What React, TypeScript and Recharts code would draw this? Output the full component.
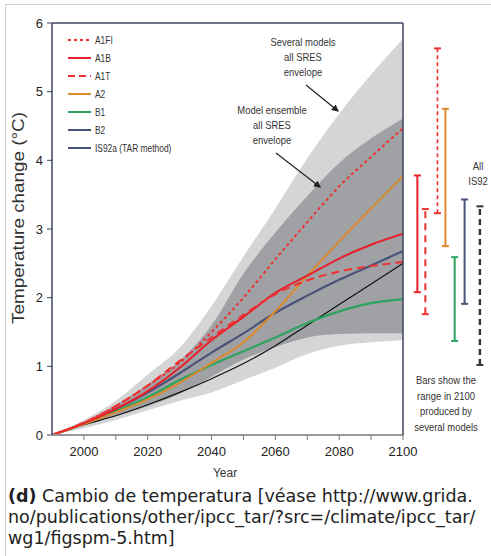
import React from "react";
import { ComposedChart, Line, Area, XAxis, YAxis, ReferenceLine } from "recharts";

// years and scenario curves (temperature change from 1990, °C)
const YEARS = [1990, 2000, 2010, 2020, 2030, 2040, 2050, 2060, 2070, 2080, 2090, 2100];
const A1FI = [0, 0.18, 0.42, 0.72, 1.05, 1.5, 2.0, 2.56, 3.1, 3.62, 4.05, 4.47];
const A1B = [0, 0.17, 0.38, 0.64, 0.98, 1.38, 1.72, 2.07, 2.32, 2.57, 2.77, 2.93];
const A1T = [0, 0.18, 0.42, 0.72, 1.08, 1.42, 1.75, 2.05, 2.25, 2.38, 2.46, 2.52];
const A2 = [0, 0.16, 0.33, 0.52, 0.76, 1.05, 1.35, 1.8, 2.32, 2.82, 3.3, 3.77];
const B1 = [0, 0.16, 0.35, 0.55, 0.8, 1.02, 1.22, 1.42, 1.63, 1.8, 1.92, 1.98];
const B2 = [0, 0.17, 0.38, 0.62, 0.9, 1.2, 1.48, 1.78, 2.03, 2.26, 2.47, 2.68];
const IS92A = [0, 0.15, 0.28, 0.44, 0.62, 0.82, 1.04, 1.3, 1.6, 1.9, 2.2, 2.5];

// envelopes
const SEVERAL_LOW = [0, 0.1, 0.22, 0.36, 0.5, 0.62, 0.8, 0.98, 1.18, 1.3, 1.35, 1.38];
const SEVERAL_HIGH = [0, 0.22, 0.5, 0.88, 1.27, 1.88, 2.6, 3.3, 4.03, 4.68, 5.25, 5.77];
const ENSEMBLE_LOW = [0, 0.14, 0.28, 0.42, 0.6, 0.85, 1.1, 1.28, 1.42, 1.47, 1.48, 1.48];
const ENSEMBLE_HIGH = [0, 0.19, 0.44, 0.74, 1.08, 1.6, 2.35, 2.95, 3.48, 3.96, 4.32, 4.61];

// range bars in 2100
const BAR_NAMES = ["A1B", "A1T", "A1FI", "A2", "B1", "B2", "IS92"];
const BAR_LOW = [2.08, 1.76, 3.23, 2.75, 1.37, 1.91, 1.02];
const BAR_HIGH = [3.78, 3.29, 5.63, 4.75, 2.59, 3.43, 3.33];

const X_TICKS = [2000, 2010, 2020, 2030, 2040, 2050, 2060, 2070, 2080, 2090, 2100];
const Y_TICKS = [0, 1, 2, 3, 4, 5, 6];

// where the bars sit to the right of the plot (in year units) + their look
const BAR_POS = [2104.5, 2107.0, 2110.8, 2113.3, 2116.2, 2119.3, 2124.1];
const BAR_STYLE: Record<string, { color: string; dash?: string; w: number }> = {
  A1B: { color: "#e8202a", w: 2 },
  A1T: { color: "#f03030", dash: "7 5", w: 2 },
  A1FI: { color: "#f03030", dash: "4 3", w: 1.6 },
  A2: { color: "#dd8a2e", w: 2 },
  B1: { color: "#2ea360", w: 2 },
  B2: { color: "#4b5278", w: 2 },
  IS92: { color: "#333", dash: "6 4", w: 2.4 },
};

const FONT = "'Liberation Sans', Arial, sans-serif";

const data = YEARS.map((y, i) => ({
  year: y,
  A1FI: A1FI[i],
  A1B: A1B[i],
  A1T: A1T[i],
  A2: A2[i],
  B1: B1[i],
  B2: B2[i],
  IS92a: IS92A[i],
  several: [SEVERAL_LOW[i], SEVERAL_HIGH[i]],
  ensemble: [ENSEMBLE_LOW[i], ENSEMBLE_HIGH[i]],
}));

const minorY: number[] = [];
for (let v = 0; v <= 60; v++) minorY.push(v / 10);

const rangeBar = (name: string) => (props: any) => {
  const { x1, y1, x2, y2 } = props;
  const s = BAR_STYLE[name];
  const cx = (x1 + x2) / 2;
  return (
    <g>
      <line x1={cx} x2={cx} y1={y1} y2={y2} stroke={s.color} strokeWidth={s.w} strokeDasharray={s.dash} />
      <line x1={cx - 3.5} x2={cx + 3.5} y1={Math.min(y1, y2)} y2={Math.min(y1, y2)} stroke={s.color} strokeWidth={2} />
      <line x1={cx - 3.5} x2={cx + 3.5} y1={Math.max(y1, y2)} y2={Math.max(y1, y2)} stroke={s.color} strokeWidth={2} />
    </g>
  );
};

const legendItems = [
  { label: "A1FI", color: "#f03030", dash: "3 3" },
  { label: "A1B", color: "#e8202a" },
  { label: "A1T", color: "#f03030", dash: "7 4" },
  { label: "A2", color: "#dd8a2e" },
  { label: "B1", color: "#2ea360" },
  { label: "B2", color: "#4b5278" },
  { label: "IS92a (TAR method)", color: "#4b5278" },
];

// narrow text: squeeze horizontally around its anchor
const NText = ({ x, y, children, anchor = "middle", sx = 0.86, size = 11 }: any) => (
  <text transform={`translate(${x},${y}) scale(${sx},1)`} textAnchor={anchor} fontSize={size} fill="#333">
    {children}
  </text>
);

export default function App() {
  return (
    <div style={{ position: "absolute", left: 0, top: 0, width: 491, height: 556, background: "#fff", overflow: "hidden" }}>
      <div style={{ position: "absolute", left: 5, top: 4, width: 520, height: 600, border: "1px solid #cfcfcf" }} />
      <div style={{ position: "absolute", left: 0, top: 0 }}>
        <ComposedChart width={491} height={470} data={data} margin={{ top: 13, right: 78, bottom: 5, left: 0 }}>
          <XAxis
            xAxisId="b"
            dataKey="year"
            type="number"
            domain={[1990, 2100]}
            ticks={X_TICKS}
            tickFormatter={(v: number) => (v % 20 === 0 ? String(v) : "")}
            height={30}
            tickSize={5}
            tickMargin={7}
            axisLine={{ stroke: "#999", strokeWidth: 2 }}
            tickLine={{ stroke: "#777" }}
            tick={{ fill: "#222", fontSize: 13, fontFamily: FONT }}
            allowDataOverflow
          />
          <XAxis
            xAxisId="t"
            orientation="top"
            dataKey="year"
            type="number"
            domain={[1990, 2100]}
            ticks={X_TICKS}
            height={10}
            tickSize={6}
            tick={false}
            axisLine={{ stroke: "#3d4460", strokeWidth: 1.5 }}
            tickLine={{ stroke: "#3d4460" }}
          />
          <YAxis
            yAxisId="l"
            domain={[0, 6]}
            ticks={Y_TICKS}
            width={52}
            tickSize={5}
            tickMargin={4}
            axisLine={{ stroke: "#3d4460", strokeWidth: 1.5 }}
            tickLine={{ stroke: "#3d4460" }}
            tick={{ fill: "#222", fontSize: 13, fontFamily: FONT }}
            allowDataOverflow
          />
          <YAxis
            yAxisId="r"
            orientation="right"
            domain={[0, 6]}
            ticks={minorY}
            width={10}
            tickSize={3}
            tick={false}
            axisLine={{ stroke: "#3d4460", strokeWidth: 1.5 }}
            tickLine={{ stroke: "#3d4460" }}
          />
          <Area xAxisId="b" yAxisId="l" dataKey="several" type="monotone" fill="#d5d5d6" fillOpacity={1} stroke="none" isAnimationActive={false} />
          <Area xAxisId="b" yAxisId="l" dataKey="ensemble" type="monotone" fill="#9fa1a5" fillOpacity={1} stroke="none" isAnimationActive={false} />
          <Line xAxisId="b" yAxisId="l" dataKey="IS92a" type="monotone" stroke="#111" strokeWidth={1.2} dot={false} isAnimationActive={false} />
          <Line xAxisId="b" yAxisId="l" dataKey="B1" type="monotone" stroke="#2ea360" strokeWidth={2.2} dot={false} isAnimationActive={false} />
          <Line xAxisId="b" yAxisId="l" dataKey="B2" type="monotone" stroke="#4b5278" strokeWidth={2.2} dot={false} isAnimationActive={false} />
          <Line xAxisId="b" yAxisId="l" dataKey="A2" type="monotone" stroke="#dd8a2e" strokeWidth={2} dot={false} isAnimationActive={false} />
          <Line xAxisId="b" yAxisId="l" dataKey="A1B" type="monotone" stroke="#e8202a" strokeWidth={2} dot={false} isAnimationActive={false} />
          <Line xAxisId="b" yAxisId="l" dataKey="A1T" type="monotone" stroke="#f03030" strokeWidth={2} strokeDasharray="8 5" dot={false} isAnimationActive={false} />
          <Line xAxisId="b" yAxisId="l" dataKey="A1FI" type="monotone" stroke="#f03030" strokeWidth={2} strokeDasharray="3 3" dot={false} isAnimationActive={false} />
          {BAR_NAMES.map((n, i) => (
            <ReferenceLine
              key={n}
              xAxisId="b"
              yAxisId="l"
              ifOverflow="visible"
              segment={[
                { x: BAR_POS[i], y: BAR_LOW[i] },
                { x: BAR_POS[i], y: BAR_HIGH[i] },
              ]}
              shape={rangeBar(n)}
            />
          ))}
        </ComposedChart>
      </div>
      <svg width={491} height={480} style={{ position: "absolute", left: 0, top: 0, pointerEvents: "none" }} fontFamily={FONT}>
        <text
          transform="translate(24,218) rotate(-90)"
          textAnchor="middle"
          fontSize={17}
          fill="#333"
          textLength={212}
          lengthAdjust="spacingAndGlyphs"
        >
          Temperature change (°C)
        </text>
        <text x={225} y={477} textAnchor="middle" fontSize={12} fill="#333">Year</text>
        {legendItems.map((it, i) => (
          <g key={it.label}>
            <line x1={68} x2={91} y1={40 + i * 18} y2={40 + i * 18} stroke={it.color} strokeWidth={2} strokeDasharray={it.dash} />
            <NText x={95} y={44 + i * 18} anchor="start" sx={0.8} size={10.5}>{it.label}</NText>
          </g>
        ))}
        <NText x={303} y={46}>Several models</NText>
        <NText x={303} y={61}>all SRES</NText>
        <NText x={303} y={76}>envelope</NText>
        <NText x={272} y={114}>Model ensemble</NText>
        <NText x={272} y={129}>all SRES</NText>
        <NText x={272} y={144}>envelope</NText>
        <NText x={478} y={170}>All</NText>
        <NText x={478} y={185}>IS92</NText>
        <NText x={446} y={384}>Bars show the</NText>
        <NText x={446} y={400}>range in 2100</NText>
        <NText x={446} y={415}>produced by</NText>
        <NText x={446} y={431}>several models</NText>
        <defs>
          <marker id="ah" markerWidth={6} markerHeight={6} refX={5} refY={3} orient="auto">
            <path d="M0,0 L6,3 L0,6 z" fill="#222" />
          </marker>
        </defs>
        <line x1={306} y1={85} x2={338} y2={111} stroke="#222" strokeWidth={1.2} markerEnd="url(#ah)" />
        <line x1={276} y1={153} x2={320} y2={187} stroke="#222" strokeWidth={1.2} markerEnd="url(#ah)" />
      </svg>
      <div
        style={{
          position: "absolute",
          left: 8,
          top: 486,
          fontFamily: "'DejaVu Sans', Verdana, sans-serif",
          fontSize: 17.5,
          lineHeight: "21px",
          color: "#222",
          whiteSpace: "nowrap",
        }}
      >
        <div><b>(d)</b> Cambio de temperatura [véase http://www.grida.</div>
        <div>no/publications/other/ipcc_tar/?src=/climate/ipcc_tar/</div>
        <div>wg1/figspm-5.htm]</div>
      </div>
    </div>
  );
}
